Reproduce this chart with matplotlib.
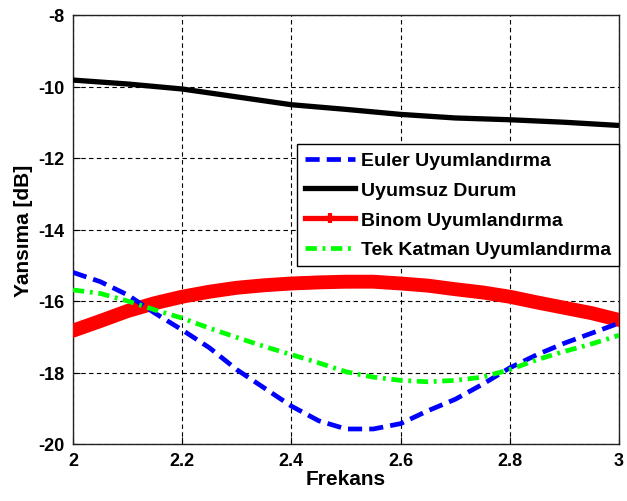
import matplotlib
matplotlib.use("Agg")
import matplotlib.pyplot as plt
from matplotlib.lines import Line2D

plt.rcParams['font.family'] = ['Liberation Sans', 'DejaVu Sans']
plt.rcParams['font.weight'] = 'bold'
plt.rcParams['axes.unicode_minus'] = False

freq = [2.00, 2.05, 2.10, 2.15, 2.20, 2.25, 2.30, 2.35, 2.40, 2.45, 2.50,
        2.55, 2.60, 2.65, 2.70, 2.75, 2.80, 2.85, 2.90, 2.95, 3.00]

euler = [-15.20, -15.46, -15.83, -16.34, -16.81, -17.31, -17.92, -18.43, -18.94, -19.35, -19.58,
         -19.58, -19.43, -19.07, -18.75, -18.33, -17.87, -17.50, -17.18, -16.90, -16.62]

freq_black = [2.0, 2.1, 2.2, 2.3, 2.4, 2.5, 2.6, 2.7, 2.8, 2.9, 3.0]
uyumsuz = [-9.82, -9.93, -10.07, -10.29, -10.51, -10.64, -10.78, -10.88, -10.93, -11.00, -11.09]

binom = [-16.83, -16.56, -16.28, -16.06, -15.88, -15.74, -15.63, -15.56, -15.51, -15.48, -15.46,
         -15.46, -15.51, -15.57, -15.67, -15.76, -15.88, -16.04, -16.19, -16.34, -16.53]

tek = [-15.69, -15.79, -16.00, -16.25, -16.48, -16.76, -17.02, -17.27, -17.50, -17.73, -17.98,
       -18.13, -18.22, -18.26, -18.22, -18.13, -17.92, -17.64, -17.41, -17.20, -16.96]

labels = ['Euler Uyumlandırma', 'Uyumsuz Durum', 'Binom Uyumlandırma', 'Tek Katman Uyumlandırma']
xticks = [2, 2.2, 2.4, 2.6, 2.8, 3]
xticklabels = ['2', '2.2', '2.4', '2.6', '2.8', '3']
yticks = [-20, -18, -16, -14, -12, -10, -8]

fig = plt.figure(figsize=(6.27, 5.02), dpi=100)
ax = fig.add_axes([73/627, 1-445/502, (619-73)/627, (445-16)/502])

ax.plot(freq_black, uyumsuz, color='black', lw=3.8, solid_capstyle='butt', zorder=3)
ax.plot(freq, binom, color='#ff0000', lw=10, solid_capstyle='round', zorder=3)
ax.plot(freq, euler, color='#0000ff', lw=3.4, dashes=(3.0, 1.5), zorder=4)
ax.plot(freq, tek, color='#00ff00', lw=3.4, dashes=(2.4, 1.2, 0.6, 1.2), zorder=4)

ax.set_xlim(2, 3)
ax.set_ylim(-20, -8)
ax.set_xticks(xticks)
ax.set_xticklabels(xticklabels)
ax.set_yticks(yticks)
ax.tick_params(direction='in', length=5, width=0.8, labelsize=13, pad=6)
for lab in ax.get_xticklabels() + ax.get_yticklabels():
    lab.set_fontweight('bold')
ax.grid(True, color='black', lw=0.8, linestyle=(0, (4, 3)))
for s in ax.spines.values():
    s.set_linewidth(1.0)
    s.set_color('#222222')

ax.set_xlabel('Frekans', fontsize=15, fontweight='bold', labelpad=0)
ax.set_ylabel('Yansıma [dB]', fontsize=15, fontweight='bold', labelpad=4)

handles = [
    Line2D([], [], color='#0000ff', lw=3.4, dashes=(3.0, 1.5)),
    Line2D([], [], color='black', lw=3.8),
    Line2D([], [], color='#ff0000', lw=3.8, marker='+', ms=7, mew=3),
    Line2D([], [], color='#00ff00', lw=3.4, dashes=(2.4, 1.2, 0.6, 1.2)),
]
leg = ax.legend(handles, labels, loc='upper right', bbox_to_anchor=(1.0, (445-145)/429),
                borderaxespad=0, fancybox=False, framealpha=1, edgecolor='black',
                prop={'size': 14, 'weight': 'bold'}, handlelength=2.6, handletextpad=0.3,
                labelspacing=0.62, borderpad=0.4)
leg.get_frame().set_linewidth(1.0)

fig.savefig('out.png', dpi=100)
